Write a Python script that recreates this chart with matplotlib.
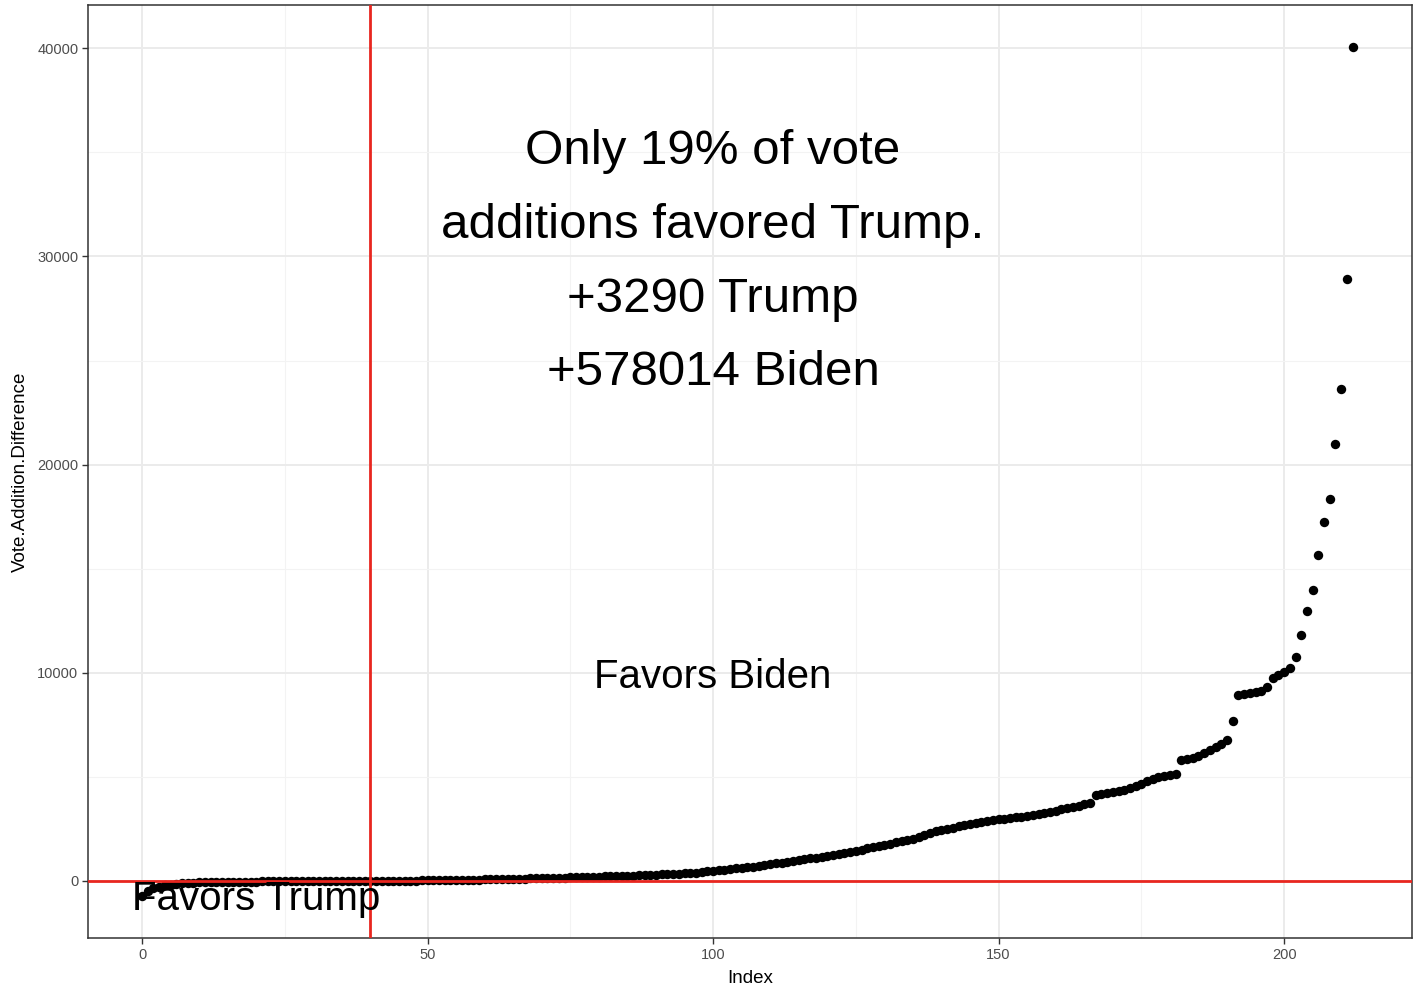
import numpy as np
import matplotlib
matplotlib.use("Agg")
import matplotlib.pyplot as plt
from matplotlib.ticker import MultipleLocator

# ---------- Data ----------
# 40 additions that favoured Trump (negative), sorted ascending
trump_side = [-700, -500, -360, -270, -210, -170, -126, -100, -88, -78,
              -70, -63, -57, -52, -47, -43, -39, -35, -32, -29,
              -26, -24, -22, -20, -18, -16, -14, -12, -11, -10,
              -9, -8, -7, -6, -5, -4, -3, -3, -2, -1]

# additions that favoured Biden (positive), sorted ascending
biden_side = [2, 4, 6, 8, 10, 13, 16, 19, 22, 26,
              30, 34, 38, 42, 46, 50, 55, 60, 65, 70,
              75, 80, 86, 92, 98, 104, 110, 116, 122, 128,
              135, 142, 149, 156, 163, 170, 178, 186, 194, 202,
              210, 218, 226, 235, 244, 253, 262, 272, 282, 292,
              302, 313, 324, 336, 350, 365, 380, 400, 440, 470,
              500, 520, 545, 570, 600, 630, 660, 690, 720, 760,
              800, 840, 880, 920, 960, 1000, 1040, 1080, 1120, 1160,
              1200, 1240, 1280, 1320, 1370, 1420, 1480, 1560, 1620, 1680,
              1740, 1800, 1850, 1900, 1950, 2000, 2100, 2200, 2300, 2380,
              2450, 2500, 2560, 2620, 2680, 2720, 2780, 2830, 2880, 2920,
              2960, 3000, 3030, 3060, 3090, 3120, 3160, 3200, 3260, 3320,
              3380, 3440, 3500, 3560, 3620, 3690, 3760,
              4120, 4170, 4220, 4270, 4320, 4380, 4460, 4560, 4680, 4800,
              4900, 4980, 5030, 5070, 5120,
              5800, 5850, 5920, 6000, 6150, 6300, 6450, 6600, 6750, 7680,
              8950, 9000, 9020, 9080, 9150, 9300, 9750, 9900, 10050, 10250,
              10750, 11810, 12970, 13970, 15650, 17240, 18340, 20990, 23620, 28900,
              40050]

vote_diff = np.array(trump_side + biden_side)
index = np.arange(len(vote_diff))

headline = "Only 19% of vote\nadditions favored Trump.\n+3290 Trump\n+578014 Biden"

# ---------- Plot ----------
plt.rcParams["font.family"] = ["Liberation Sans", "DejaVu Sans"]

fig = plt.figure(figsize=(14.13, 9.88), dpi=100)
ax = fig.add_axes([0.0623, 0.0506, 0.937, 0.9443])

ax.scatter(index, vote_diff, s=46, color="black", zorder=3, linewidths=0)
ax.axhline(0, color="#e8261f", lw=2, zorder=4)
ax.axvline(40, color="#e8261f", lw=2, zorder=4)

ax.text(100, 29720, headline, ha="center", va="center", fontsize=35.5,
        linespacing=1.82, zorder=5)
ax.text(100, 9780, "Favors Biden", ha="center", va="center", fontsize=29, zorder=5)
ax.text(20, -870, "Favors Trump", ha="center", va="center", fontsize=29, zorder=5)

ax.set_xlim(-9.46, 222.4)
ax.set_ylim(-2740, 42080)
ax.xaxis.set_major_locator(MultipleLocator(50))
ax.xaxis.set_minor_locator(MultipleLocator(25))
ax.yaxis.set_major_locator(MultipleLocator(10000))
ax.yaxis.set_minor_locator(MultipleLocator(5000))

ax.grid(which="major", color="#ebebeb", lw=1.4, zorder=0)
ax.grid(which="minor", color="#f3f3f3", lw=0.8, zorder=0)
ax.set_axisbelow(True)

for sp in ax.spines.values():
    sp.set_color("#333333")
    sp.set_linewidth(1.1)

ax.tick_params(which="major", length=4, width=1, color="#333333",
               labelcolor="#4d4d4d", labelsize=10.5, pad=3)
ax.tick_params(which="minor", length=0)

ax.set_xlabel("Index", fontsize=13.5, labelpad=6)
ax.set_ylabel("Vote.Addition.Difference", fontsize=13.5, labelpad=6)

fig.savefig("out.png", dpi=100)
